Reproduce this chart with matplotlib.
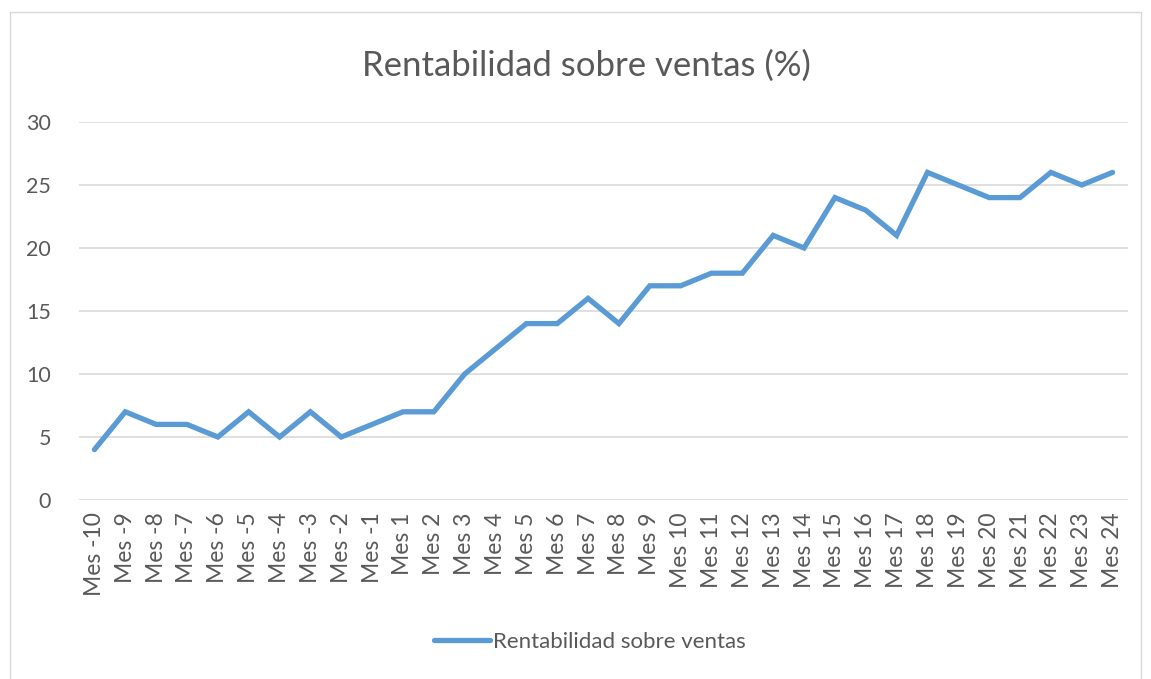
import numpy as np
import matplotlib.pyplot as plt
from matplotlib.patches import Rectangle

# Datos
meses = [f"Mes {m}" for m in list(range(-10, 0)) + list(range(1, 25))]
rentabilidad = [4, 7, 6, 6, 5, 7, 5, 7, 5, 6,
                7, 7, 10, 12, 14, 14, 16, 14, 17, 17,
                18, 18, 21, 20, 24, 23, 21, 26, 25, 24,
                24, 26, 25, 26]

plt.rcParams['font.family'] = ['Lato', 'DejaVu Sans']
gris = '#595959'
azul = '#5B9BD5'

W, H = 1151, 679
fig = plt.figure(figsize=(W / 100, H / 100), dpi=100)

# borde del área del gráfico
fig.patches.append(Rectangle((10 / W, -0.05), 1131 / W, 1 - 12 / H + 0.05,
                             transform=fig.transFigure, fill=False,
                             edgecolor='#D9D9D9', linewidth=1))

ax = fig.add_axes([79 / W, 1 - 500 / H, (1128 - 79) / W, (500 - 122) / H])
x = np.arange(len(meses))
ax.plot(x, rentabilidad, color=azul, linewidth=3.8, solid_joinstyle='miter',
        solid_capstyle='round', label='Rentabilidad sobre ventas')

ax.set_xlim(-0.5, len(meses) - 0.5)
ax.set_ylim(0, 30)
ax.set_yticks(range(0, 31, 5))
ax.set_xticks(x)
ax.set_xticklabels(meses, rotation=90)
ax.tick_params(axis='both', length=0, labelsize=16.5, colors=gris)
ax.tick_params(axis='y', labelsize=15.5, pad=20)
ax.tick_params(axis='x', pad=9)
ax.grid(axis='y', color='#D9D9D9', linewidth=1.2)
ax.set_axisbelow(True)
for s in ax.spines.values():
    s.set_visible(False)

fig.text(586 / W, 1 - 66 / H, 'Rentabilidad sobre ventas (%)', ha='center',
         va='center', fontsize=25, color=gris)

leg = fig.legend(loc='center', bbox_to_anchor=(590 / W, 1 - 642 / H),
                 frameon=False, fontsize=16, handlelength=2.5,
                 handletextpad=0.15)
for t in leg.get_texts():
    t.set_color(gris)

fig.savefig('out.png', dpi=100)
